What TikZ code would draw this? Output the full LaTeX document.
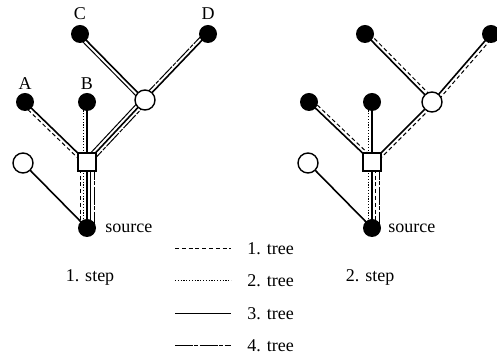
\documentclass[tikz,border=0pt]{standalone}
\usepackage{fontspec}
\setmainfont{Liberation Serif}
\usetikzlibrary{calc}
\newcommand\treeln[4]{\draw[#1] ($(#2)!#4*0.5pt!90:(#3)$) -- ($(#3)!#4*0.5pt!-90:(#2)$);}
\begin{document}
\begin{tikzpicture}[x=0.5pt,y=-0.5pt,
  link/.style={line width=0.8pt},
  tone/.style={line width=0.5pt, dash pattern=on 2pt off 1.4pt},
  ttwo/.style={line width=0.5pt, dash pattern=on 0.6pt off 0.8pt},
  tthree/.style={line width=0.5pt},
  tfour/.style={line width=0.5pt, dash pattern=on 9pt off 0.7pt on 2pt off 0.7pt},
  blk/.style={circle, fill=black, minimum size=9pt, inner sep=0pt},
  wht/.style={circle, draw, fill=white, line width=0.7pt, minimum size=10pt, inner sep=0pt},
  sqr/.style={rectangle, draw, fill=white, line width=0.7pt, minimum size=9pt, inner sep=0pt},
  lbl/.style={font=\fontsize{9}{11}\selectfont, inner sep=0pt}]
\useasboundingbox (0,0) rectangle (497,356);
% ---------- step 1 coordinates
\coordinate (C1) at (80,34);
\coordinate (D1) at (208,34);
\coordinate (A1) at (25,102);
\coordinate (B1) at (87,102);
\coordinate (W1) at (145,100);
\coordinate (S1) at (87,162);
\coordinate (L1) at (23,163);
\coordinate (R1) at (87,228);
% ---------- step 2 coordinates
\coordinate (C2) at (365,34);
\coordinate (D2) at (491,34);
\coordinate (A2) at (309,102);
\coordinate (B2) at (372,102);
\coordinate (W2) at (432,102);
\coordinate (S2) at (372,162);
\coordinate (L2) at (308,163);
\coordinate (R2) at (372,228);
% ---------- step 1 edges
\draw[link] (S1) -- (A1);
\treeln{tone}{S1}{A1}{3.5}
\draw[link] (S1) -- (B1);
\treeln{ttwo}{S1}{B1}{3.5}
\draw[link] (S1) -- (W1);
\treeln{tthree}{S1}{W1}{3.5}
\treeln{tfour}{S1}{W1}{-3.5}
\draw[link] (W1) -- (C1);
\treeln{tthree}{W1}{C1}{3.5}
\draw[link] (W1) -- (D1);
\treeln{tfour}{W1}{D1}{3.5}
\draw[link] (S1) -- (R1);
\treeln{tone}{S1}{R1}{-7}
\treeln{ttwo}{S1}{R1}{-3.5}
\treeln{tthree}{S1}{R1}{3.5}
\treeln{tfour}{S1}{R1}{7}
\draw[link] (R1) -- (L1);
% ---------- step 2 edges
\draw[link] (S2) -- (A2);
\treeln{tone}{S2}{A2}{-3.5}
\draw[link] (S2) -- (B2);
\treeln{ttwo}{S2}{B2}{3.5}
\draw[link] (S2) -- (W2);
\treeln{tone}{S2}{W2}{-3.5}
\draw[link] (W2) -- (C2);
\treeln{tone}{W2}{C2}{-3.5}
\draw[link] (W2) -- (D2);
\treeln{tone}{W2}{D2}{-3.5}
\draw[link] (S2) -- (R2);
\treeln{ttwo}{S2}{R2}{-4}
\treeln{tone}{S2}{R2}{3.5}
\treeln{tfour}{S2}{R2}{7}
\draw[link] (R2) -- (L2);
% ---------- step 1 nodes
\node[blk] (nC1) at (C1) {};
\node[blk] (nD1) at (D1) {};
\node[blk] (nA1) at (A1) {};
\node[blk] (nB1) at (B1) {};
\node[wht] (nW1) at (W1) {};
\node[sqr] (nS1) at (S1) {};
\node[wht] (nL1) at (L1) {};
\node[blk] (nR1) at (R1) {};
\node[lbl] (tC) at (80,14) {C};
\node[lbl] (tD) at (208,14) {D};
\node[lbl] (tA) at (25,84) {A};
\node[lbl] (tB) at (87,84) {B};
\node[lbl, anchor=west] (src1) at (105,228) {source};
\node[lbl] (st1) at (90,277) {1. step};
% ---------- step 2 nodes
\node[blk] (nC2) at (C2) {};
\node[blk] (nD2) at (D2) {};
\node[blk] (nA2) at (A2) {};
\node[blk] (nB2) at (B2) {};
\node[wht] (nW2) at (W2) {};
\node[sqr] (nS2) at (S2) {};
\node[wht] (nL2) at (L2) {};
\node[blk] (nR2) at (R2) {};
\node[lbl, anchor=west] (src2) at (388,228) {source};
\node[lbl] (st2) at (370,277) {2. step};
% ---------- legend
\coordinate (g1a) at (175,249); \coordinate (g1b) at (231,249);
\coordinate (g2a) at (175,281); \coordinate (g2b) at (231,281);
\coordinate (g3a) at (175,314); \coordinate (g3b) at (231,314);
\coordinate (g4a) at (175,346); \coordinate (g4b) at (231,346);
\draw[tone] (g1a) -- (g1b);
\draw[ttwo] (g2a) -- (g2b);
\draw[tthree] (g3a) -- (g3b);
\draw[tfour] (g4a) -- (g4b);
\node[lbl, anchor=west] (k1) at (247,249) {1. tree};
\node[lbl, anchor=west] (k2) at (247,281) {2. tree};
\node[lbl, anchor=west] (k3) at (247,314) {3. tree};
\node[lbl, anchor=west] (k4) at (247,346) {4. tree};
\end{tikzpicture}
\end{document}
